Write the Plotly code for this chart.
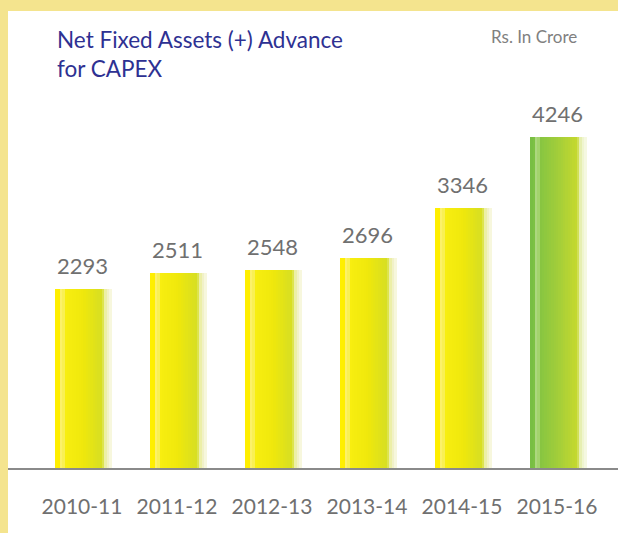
import plotly.graph_objects as go

categories = ["2010-11", "2011-12", "2012-13", "2013-14", "2014-15", "2015-16"]
values = [2293, 2511, 2548, 2696, 3346, 4246]
bar_kind = ["yellow", "yellow", "yellow", "yellow", "yellow", "green"]

W, H = 618, 533
L, R, T, B = 8, 0, 11, 65
PW, PH = W - L - R, H - T - B

def px_x(p):
    return (p - L) / PW

def px_y(p):
    return (H - B - p) / PH

def hex2rgb(h):
    h = h.lstrip("#")
    return tuple(int(h[i:i + 2], 16) for i in (0, 2, 4))

def interp(stops, t):
    for (t0, c0), (t1, c1) in zip(stops, stops[1:]):
        if t0 <= t <= t1:
            f = 0 if t1 == t0 else (t - t0) / (t1 - t0)
            a, b = hex2rgb(c0), hex2rgb(c1)
            return "rgb(%d,%d,%d)" % tuple(round(a[k] + (b[k] - a[k]) * f) for k in range(3))
    return stops[-1][1]

stops = {
    "yellow": [(0.0, "#FFF000"), (0.07, "#FFEE00"), (0.12, "#FBF39A"), (0.17, "#F8EE10"),
               (0.5, "#EFE80C"), (0.84, "#D6DE24"), (0.88, "#EAEE9A"), (0.93, "#F0F0C4"), (1.0, "#FAFAE8")],
    "green": [(0.0, "#76BD43"), (0.07, "#7DC243"), (0.12, "#C2E19A"), (0.17, "#86C541"),
              (0.5, "#A3CE3A"), (0.84, "#C6D92E"), (0.88, "#E2EDA4"), (0.93, "#EEF4CC"), (1.0, "#F8FAEA")],
}

fig = go.Figure()
bw = 0.59
N = 24
sw = bw / N
for i in range(N):
    t = (i + 0.5) / N
    fig.add_trace(go.Bar(
        x=categories, y=values,
        width=[sw * 1.15] * len(values),
        offset=[-bw / 2 + 0.015 + i * sw] * len(values),
        marker=dict(color=[interp(stops[k], t) for k in bar_kind], line=dict(width=0)),
        hoverinfo="skip", showlegend=False,
    ))

for c, v in zip(categories, values):
    fig.add_annotation(x=c, y=v, text=str(v), showarrow=False, xanchor="center", yanchor="bottom",
                       yshift=8, font=dict(size=22, color="#707070", family="Lato"))

border = "#F4E48E"
# white inner panel on a yellow page
fig.add_shape(type="rect", xref="paper", yref="paper", x0=px_x(L), x1=px_x(W + 5), y0=px_y(H + 5), y1=px_y(T),
              fillcolor="white", line=dict(width=0), layer="below")

fig.add_annotation(xref="paper", yref="paper", x=px_x(55), y=px_y(24), xanchor="left", yanchor="top",
                   text="Net Fixed Assets (+) Advance<br>for CAPEX", showarrow=False, align="left",
                   font=dict(size=22.5, color="#2E3192", family="Lato"))
fig.add_annotation(xref="paper", yref="paper", x=px_x(579), y=px_y(24), xanchor="right", yanchor="top",
                   text="Rs. In Crore", showarrow=False,
                   font=dict(size=17, color="#808080", family="Lato"))

fig.update_layout(
    width=W, height=H, margin=dict(l=L, r=R, t=T, b=B),
    paper_bgcolor=border, plot_bgcolor="white", barmode="overlay", bargap=0,
    xaxis=dict(type="category", range=[-0.779, 5.642], showline=True, linecolor="#8A8A8A", linewidth=2,
               ticks="outside", ticklen=19, tickcolor="rgba(0,0,0,0)",
               tickfont=dict(size=21, color="#707070", family="Lato"), showgrid=False, zeroline=False),
    yaxis=dict(range=[0, 5870], visible=False, showgrid=False, zeroline=False),
)

fig.write_html("out.html", config={"displayModeBar": False},
               post_script="document.body.style.margin='0';document.body.style.overflow='hidden';")
